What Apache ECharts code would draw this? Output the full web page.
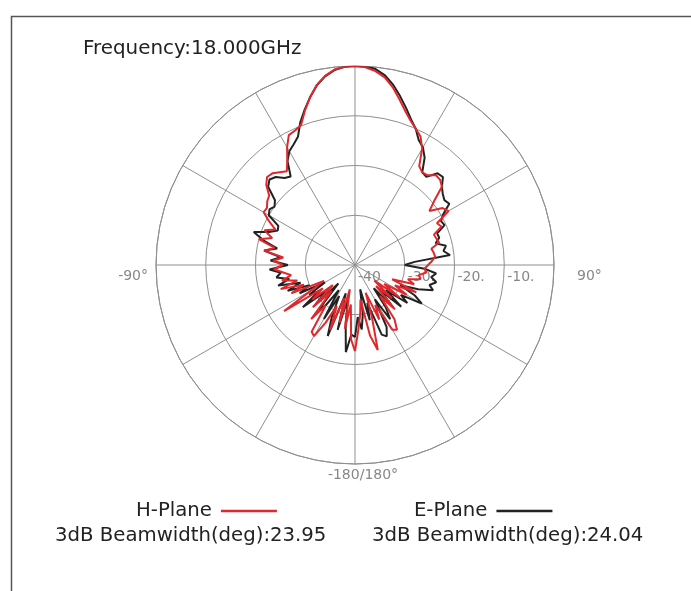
<!DOCTYPE html>
<html>
<head>
<meta charset="utf-8">
<script src="https://cdn.jsdelivr.net/npm/echarts@6/dist/echarts.min.js"></script>
<style>html,body{margin:0;padding:0;background:#fff}#c{width:691px;height:591px}</style>
</head>
<body>
<div id="c"></div>
<script>
const titleText = 'Frequency:18.000GHz';
const seriesNames = ['H-Plane', 'E-Plane'];
const beamwidthTexts = ['3dB Beamwidth(deg):23.95', '3dB Beamwidth(deg):24.04'];
const radiusTicks = [-40, -30, -20, -10, 0];
const angleTickLabels = { '-270': '90°', '-180': '-180/180°', '-90': '-90°' };

const angles = [
 -180,-177,-174,-171,-168,-165,-162,-159,-156,-153,-150,-147,-144,-141,-138,-135,-132,-129,-126,-123,
 -120,-117,-114,-111,-108,-105,-102,-99,-96,-93,-90,-87,-84,-81,-78,-75,-72,-69,-66,-63,
 -60,-57,-54,-51,-48,-45,-42,-39,-36,-33,-30,-27,-24,-21,-18,-15,-12,-9,-6,-3,
 0,3,6,9,12,15,18,21,24,27,30,33,36,39,42,45,48,51,54,57,
 60,63,66,69,72,75,78,81,84,87,90,93,96,99,102,105,108,111,114,117,
 120,123,126,129,132,135,138,141,144,147,150,153,156,159,162,165,168,171,174,177
];

const hPlane = [
 -22.7,-25,-32,-27,-35,-28,-33,-26,-31,-27,-23.5,-24,-30,-26,-33,-28,-34,-29,-32,-23,
 -30,-33,-26,-29,-24.3,-28,-25,-27,-25.5,-23.7,-25.5,-23.5,-25.5,-21.5,-23.5,-20,-22.5,-20.5,-22.5,-20.6,
 -18.8,-18.9,-18.2,-17.8,-16,-15,-15.2,-16,-16.7,-15,-12.7,-10.7,-10.4,-9.8,-7.4,-5.1,-3.0,-1.5,-0.5,-0.1,
 0,-0.2,-0.8,-1.8,-3.5,-5.5,-7.4,-8.9,-10.0,-11.0,-13.0,-16.3,-17,-16.8,-15.7,-15.8,-16.5,-19.5,-21.5,-19,
 -18.3,-21.5,-21,-23,-22.8,-22.5,-24.3,-24,-23.8,-24.5,-25.3,-26,-25.6,-27,-26.5,-29,-27.5,-32,-26.5,-31,
 -28,-33,-29,-35,-30,-34,-28,-32,-26.5,-24.5,-25,-31,-28,-34,-29,-22.3,-25.5,-33,-30,-27
];

const ePlane = [
 -25.5,-26,-22.4,-28,-33,-26.5,-34,-24.7,-28.5,-33,-27.5,-34,-30,-28.5,-35,-29,-32,-26.5,-31,-29,
 -33,-27.5,-30,-25.5,-28.5,-24,-26.5,-24,-25,-22.8,-26.5,-23,-25,-21.5,-24,-21,-18.6,-21.5,-23,-22.7,
 -20,-19.5,-20,-19.3,-16.5,-15.7,-16.2,-17.5,-18,-15.1,-13.6,-12.8,-11.8,-9.3,-7.2,-5.1,-3.1,-1.6,-0.6,-0.1,
 0,0,-0.4,-1.4,-3.0,-4.9,-6.8,-8.6,-10.0,-11.8,-12.7,-14.3,-17,-17.2,-15.2,-15,-16.5,-17.3,-17.8,-17.4,
 -19.5,-20.6,-20.3,-22.3,-22.2,-23.2,-21.3,-22,-20.8,-28,-30,-26,-23.6,-24.5,-23.3,-24.5,-23.5,-26.4,-30,-26.5,
 -24.5,-29,-27,-32,-27.5,-33,-28.5,-34,-29.5,-27,-32,-26,-24.3,-25,-32,-28.5,-35,-30,-27,-29.5
];

function toPolar(vals) {
  const pts = angles.map((a, i) => [vals[i], a > 90 ? a - 360 : a]);
  pts.push(pts[0].slice());
  return pts;
}

const FONT = 'DejaVu Sans';
const GRID = '#8f8f8f';
const chart = echarts.init(document.getElementById('c'), null, { renderer: 'canvas' });
chart.setOption({
  animation: false,
  backgroundColor: '#fff',
  graphic: [{
    type: 'rect', left: 9, top: 14, silent: true,
    shape: { width: 800, height: 700 },
    style: { fill: 'none', stroke: '#555', lineWidth: 1.5 }
  }],
  title: [
    { text: titleText, left: 83, top: 39, padding: 0,
      textStyle: { fontFamily: FONT, fontSize: 19.9, fontWeight: 'normal', color: '#222' } },
    { text: beamwidthTexts[0], left: 55, top: 526, padding: 0,
      textStyle: { fontFamily: FONT, fontSize: 19.7, fontWeight: 'normal', color: '#222' } },
    { text: beamwidthTexts[1], left: 372, top: 526, padding: 0,
      textStyle: { fontFamily: FONT, fontSize: 19.7, fontWeight: 'normal', color: '#222' } }
  ],
  legend: {
    data: seriesNames, left: 136, top: 501, padding: 0, align: 'right',
    icon: 'rect', itemWidth: 56, itemHeight: 2.5, itemGap: 137,
    textStyle: { fontFamily: FONT, fontSize: 19.7, color: '#222', padding: [0, 4, 0, 0] }
  },
  polar: { center: [355, 265], radius: 199 },
  angleAxis: {
    type: 'value', min: -270, max: 90, interval: 30, startAngle: 0, clockwise: true,
    axisLine: { show: true, lineStyle: { color: GRID, width: 1 } },
    axisTick: { show: false },
    splitLine: { show: true, lineStyle: { color: GRID, width: 1 } },
    axisLabel: {
      show: true, margin: 4, color: '#888', fontFamily: FONT, fontSize: 14,
      formatter: v => {
        const t = angleTickLabels[String(v)];
        if (!t) return '';
        if (v === -270) return '{r|' + t + '}';
        if (v === -90) return '{l|' + t + '}';
        return '{b|' + t + '}';
      },
      rich: {
        r: { fontFamily: FONT, fontSize: 14, color: '#888', padding: [22, 0, 0, 19] },
        l: { fontFamily: FONT, fontSize: 14, color: '#888', padding: [22, 4, 0, 0] },
        b: { fontFamily: FONT, fontSize: 14, color: '#888', padding: [0, 0, 0, 16] }
      }
    }
  },
  radiusAxis: {
    type: 'value', min: radiusTicks[0], max: radiusTicks[radiusTicks.length - 1], interval: 10,
    axisLine: { show: false }, axisTick: { show: false },
    splitLine: { show: true, lineStyle: { color: GRID, width: 1 } },
    axisLabel: {
      show: true, color: '#888', fontFamily: FONT, fontSize: 14, margin: -5,
      align: 'left', verticalAlign: 'top', padding: [0, 0, 0, 3],
      formatter: v => v === 0 ? '' : (v === -40 ? String(v) : v + '.')
    }
  },
  series: [
    { name: seriesNames[1], type: 'line', coordinateSystem: 'polar', data: toPolar(ePlane),
      symbol: 'none', lineStyle: { color: '#222', width: 2 }, itemStyle: { color: '#222' }, z: 2 },
    { name: seriesNames[0], type: 'line', coordinateSystem: 'polar', data: toPolar(hPlane),
      symbol: 'none', lineStyle: { color: '#e0282c', width: 2 }, itemStyle: { color: '#e0282c' }, z: 3 }
  ]
});
</script>
</body>
</html>
